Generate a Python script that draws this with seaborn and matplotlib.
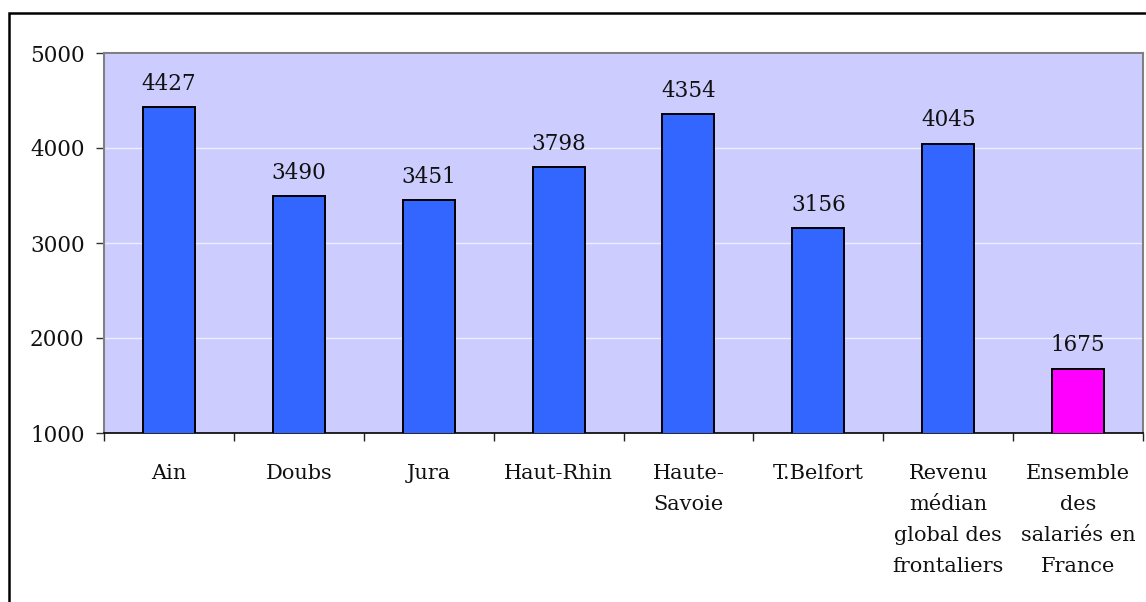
import matplotlib
matplotlib.use("Agg")
import matplotlib.pyplot as plt
import seaborn as sns
from matplotlib.patches import Rectangle
from matplotlib.ticker import FixedLocator

# Data
categories = ["Ain", "Doubs", "Jura", "Haut-Rhin", "Haute-\nSavoie", "T.Belfort",
              "Revenu\nmédian\nglobal des\nfrontaliers",
              "Ensemble\ndes\nsalariés en\nFrance"]
values = [4427, 3490, 3451, 3798, 4354, 3156, 4045, 1675]
bar_colors = ["#3366FF"] * 7 + ["#FF00FF"]
yticks = [1000, 2000, 3000, 4000, 5000]

sns.set_style("white")
plt.rcParams["font.family"] = ["DejaVu Serif"]

fig = plt.figure(figsize=(11.46, 6.02), dpi=100)
ax = fig.add_axes([104 / 1146, 1 - 433 / 602, (1143 - 104) / 1146, (433 - 53) / 602])
ax.set_facecolor("#CCCCFF")

sns.barplot(x=list(range(len(categories))), y=values, hue=list(range(len(categories))),
            palette=bar_colors, legend=False, width=0.4, edgecolor="black",
            linewidth=1.4, saturation=1, ax=ax, zorder=3)

for cont in ax.containers:
    ax.bar_label(cont, fmt="%d", padding=9, fontsize=15.5, color="#111111")

ax.set_ylim(1000, 5000)
ax.set_xlim(-0.5, len(categories) - 0.5)
ax.set_yticks(yticks)
ax.set_yticklabels([str(t) for t in yticks], fontsize=15.5, color="#111111")
ax.yaxis.grid(True, color="#EEEEFF", linewidth=1, zorder=0)
ax.set_axisbelow(True)

ax.set_xticks(range(len(categories)))
ax.set_xticklabels(categories, fontsize=15, linespacing=1.82, va="top", color="#111111")
ax.xaxis.set_minor_locator(FixedLocator([i - 0.5 for i in range(len(categories) + 1)]))
ax.tick_params(axis="x", which="major", length=0, pad=22)
ax.tick_params(axis="x", which="minor", length=6, width=1, color="#222222", direction="out", bottom=True)
ax.tick_params(axis="y", length=6, width=1, color="#333333", pad=8, left=True)
ax.set_xlabel("")
ax.set_ylabel("")

for side in ["top", "right", "left"]:
    ax.spines[side].set_color("#808080")
    ax.spines[side].set_linewidth(1.5)
ax.spines["bottom"].set_color("black")
ax.spines["bottom"].set_linewidth(1.2)

# outer chart frame
fig.patches.append(Rectangle((9 / 1146, -0.1), 1.2, 1 - 13 / 602 + 0.1,
                             transform=fig.transFigure, fill=False,
                             edgecolor="black", linewidth=1.8))

fig.savefig("out.png", dpi=100)
